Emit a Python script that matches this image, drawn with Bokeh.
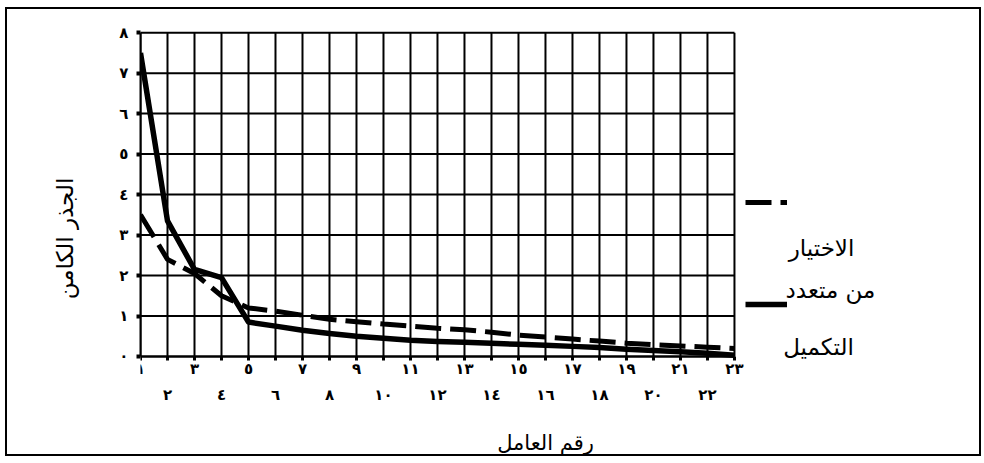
from bokeh.plotting import figure
from bokeh.models import LinearAxis, FixedTicker, Range1d, Label, Legend, LegendItem
from bokeh.embed import file_html
from bokeh.resources import INLINE

# ---------------- data ----------------
factors = list(range(1, 24))
completion = [7.5, 3.35, 2.15, 1.95, 0.85, 0.75, 0.65, 0.57, 0.5, 0.45, 0.4, 0.37,
              0.35, 0.33, 0.3, 0.28, 0.25, 0.22, 0.18, 0.15, 0.12, 0.08, 0.03]
multiple_choice = [3.5, 2.4, 2.05, 1.5, 1.2, 1.12, 1.02, 0.92, 0.86, 0.8, 0.75, 0.7,
                   0.66, 0.6, 0.53, 0.48, 0.43, 0.38, 0.33, 0.29, 0.26, 0.23, 0.2]
y_ticks = [0, 1, 2, 3, 4, 5, 6, 7, 8]
y_tick_labels = ["٠", "١", "٢", "٣", "٤", "٥", "٦", "٧", "٨"]
x_tick_labels = ["١", "٢", "٣", "٤", "٥", "٦", "٧", "٨", "٩", "١٠", "١١", "١٢",
                 "١٣", "١٤", "١٥", "١٦", "١٧", "١٨", "١٩", "٢٠", "٢١", "٢٢", "٢٣"]
label_multiple_1 = "الاختيار"
label_multiple_2 = "من متعدد"
label_completion = "التكميل"
x_title = "رقم العامل"
y_title = "الجذر الكامن"

FONT = "DejaVu Sans"

# The frame is widened/lengthened so that the legend and the x title lie inside it;
# the chart itself occupies x 1..23, y 0..8.
p = figure(width=976, height=449, x_range=Range1d(1, 31.15), y_range=Range1d(-2.52, 8.35),
           output_backend="svg", toolbar_location=None,
           min_border_left=133, min_border_right=29,
           min_border_top=9, min_border_bottom=0)
p.styles = {"border": "2px solid black", "margin": "7px 0px 0px 5px"}
p.outline_line_color = None
p.grid.visible = False

# grid lines limited to the chart area
n_y = len(y_ticks)
n_x = len(factors)
p.segment(x0=factors, x1=factors, y0=[y_ticks[0]] * n_x, y1=[y_ticks[-1]] * n_x,
          line_color="black", line_width=2)
p.segment(x0=[factors[0]] * n_y, x1=[factors[-1]] * n_y, y0=y_ticks, y1=y_ticks,
          line_color="black", line_width=2)

# y axis
ya = p.yaxis[0]
ya.bounds = (y_ticks[0], y_ticks[-1])
ya.ticker = FixedTicker(ticks=y_ticks)
ya.major_label_overrides = {t: l for t, l in zip(y_ticks, y_tick_labels)}
ya.major_tick_out = 4
ya.major_tick_in = 0
ya.major_tick_line_width = 4
ya.minor_tick_line_color = None
ya.axis_line_width = 2
ya.major_label_standoff = 8
ya.major_label_text_font = FONT
ya.major_label_text_font_size = "15px"
ya.major_label_text_font_style = "bold"
ya.major_label_text_color = "black"
ya.axis_label = y_title
ya.axis_label_text_font = FONT
ya.axis_label_text_font_size = "23px"
ya.axis_label_text_font_style = "normal"
ya.axis_label_text_color = "black"
ya.axis_label_standoff = 38

# x axis: odd labels on first row, fixed at y = 0
xa = p.xaxis[0]
xa.fixed_location = 0
xa.bounds = (factors[0], factors[-1])
xa.ticker = FixedTicker(ticks=factors)
xa.major_label_overrides = {t: (l if t % 2 == 1 else "") for t, l in zip(factors, x_tick_labels)}
xa.major_tick_out = 4
xa.major_tick_in = 0
xa.major_tick_line_width = 3
xa.minor_tick_line_color = None
xa.axis_line_width = 2
xa.major_label_standoff = 0
xa.major_label_text_font = FONT
xa.major_label_text_font_size = "15px"
xa.major_label_text_font_style = "bold"
xa.major_label_text_color = "black"

# x axis: even labels on second row
evens = [t for t in factors if t % 2 == 0]
xa2 = LinearAxis(ticker=FixedTicker(ticks=evens), fixed_location=0,
                 major_label_overrides={t: l for t, l in zip(factors, x_tick_labels) if t % 2 == 0},
                 axis_line_color=None, major_tick_line_color=None, minor_tick_line_color=None,
                 major_label_standoff=24, major_label_text_font=FONT,
                 major_label_text_font_size="15px", major_label_text_font_style="bold",
                 major_label_text_color="black")
p.add_layout(xa2, "below")

# series
r_c = p.line(factors, completion, line_width=5.5, line_color="black", line_join="round")
r_m = p.line(factors, multiple_choice, line_width=5, line_color="black", line_dash="26 9")


def add_text(x, y, text, size):
    p.add_layout(Label(x=x, y=y, x_units="screen", y_units="screen", text=text,
                       text_align="center", text_baseline="middle",
                       text_font=FONT, text_font_size=size, text_color="black"))

add_text(681, 211, label_multiple_1, "23px")
add_text(690, 169, label_multiple_2, "23px")
add_text(678, 112, label_completion, "23px")
add_text(405, 16, x_title, "21px")

# legend glyphs
common = dict(glyph_width=42, glyph_height=10, label_width=0, label_height=10,
              label_standoff=0, padding=0, margin=0, spacing=0,
              border_line_color=None, background_fill_alpha=0,
              label_text_font_size="10px")
leg1 = Legend(items=[LegendItem(label=" ", renderers=[r_m])], location=(605, 251), **common)
leg2 = Legend(items=[LegendItem(label=" ", renderers=[r_c])], location=(605, 149), **common)
p.add_layout(leg1)
p.add_layout(leg2)

open("out.html", "w").write(file_html(p, INLINE))
